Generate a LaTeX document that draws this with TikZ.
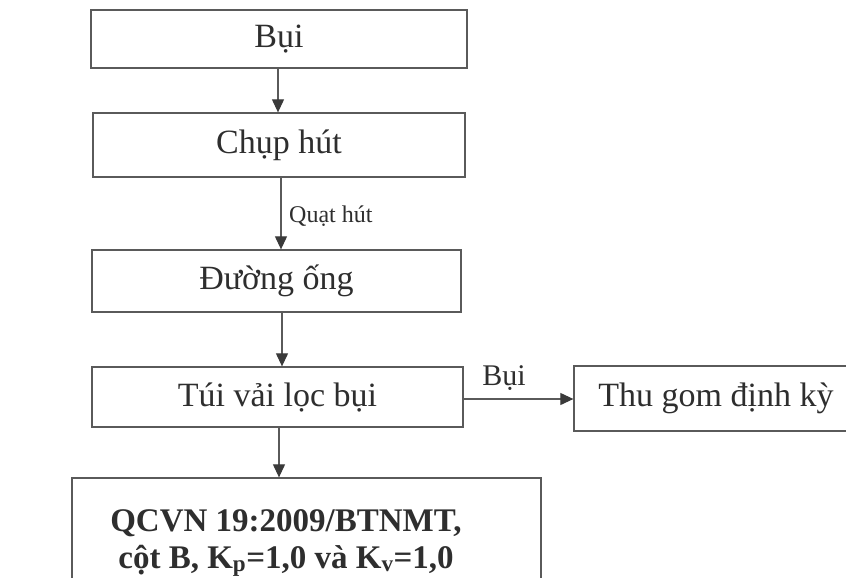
\documentclass[tikz,border=0pt]{standalone}
\usepackage{fontspec}
\setmainfont{Liberation Serif}
\usetikzlibrary{arrows.meta}
\definecolor{ln}{HTML}{5A5A5A}
\definecolor{ah}{HTML}{3A3A3A}
\definecolor{tx}{HTML}{2E2E2E}
\tikzset{
  box/.style={draw=ln, line width=1.3pt, rectangle, inner sep=0pt, text=tx,
    font=\fontsize{34}{40}\selectfont},
  arr/.style={draw=ln, line width=1.1pt, -{Triangle[width=12pt,length=13pt,color=ah]}},
  lbl/.style={text=tx, inner sep=0pt},
}
\begin{document}
\begin{tikzpicture}[x=1pt,y=-1pt]
\useasboundingbox (0,0) rectangle (846,578);
\fill[white] (0,0) rectangle (846,578);
\begin{scope}
\clip (0,0) rectangle (846,578);
\node[box, minimum width=376, minimum height=58] (b1) at (279,39) {Bụi};
\node[box, minimum width=372, minimum height=64] (b2) at (279,145) {Chụp hút};
\node[box, minimum width=369, minimum height=62] (b3) at (276.5,281) {Đường ống};
\node[box, minimum width=371, minimum height=60] (b4) at (277.5,397) {Túi vải lọc bụi};
\node[box, minimum width=284, minimum height=65] (b5) at (716,398.5) {Thu gom định kỳ};
\node[box, minimum width=469, minimum height=124] (b6) at (306.5,540) {};
\node[lbl, align=center, font=\fontsize{33}{37}\bfseries\selectfont] (b6t) at (286,543)
  {QCVN 19:2009/BTNMT,\\cột B, K\textsubscript{p}=1,0 và K\textsubscript{v}=1,0};
\end{scope}
\coordinate (x1) at (278,0);
\coordinate (x2) at (281,0);
\coordinate (x3) at (282,0);
\coordinate (x4) at (279,0);
\draw[arr] (b1.south -| x1) -- (b2.north -| x1);
\draw[arr] (b2.south -| x2) -- (b3.north -| x2);
\node[lbl, anchor=west, font=\fontsize{24}{28}\selectfont] (q) at (289,216) {Quạt hút};
\draw[arr] (b3.south -| x3) -- (b4.north -| x3);
\draw[arr] (b4.south -| x4) -- (b6.north -| x4);
\coordinate (h1) at ([yshift=-2pt]b4.east);
\draw[arr] (h1) -- (h1 -| b5.west);
\node[lbl, font=\fontsize{30}{34}\selectfont] (bl) at (504,378) {Bụi};
\end{tikzpicture}
\end{document}
